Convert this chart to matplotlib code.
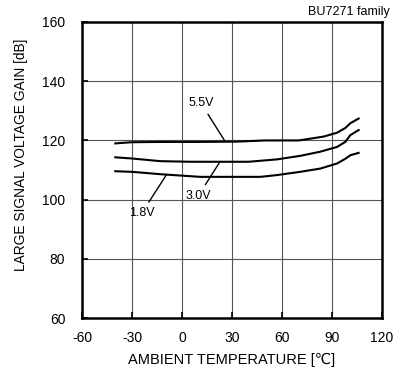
import matplotlib.pyplot as plt

plt.rcParams['font.family'] = ['Liberation Sans', 'DejaVu Sans']
plt.rcParams['axes.unicode_minus'] = False

# ambient temperature [C] and gain [dB]
temp_55 = [-40, -30, -10, 10, 33, 50, 70, 77, 85, 93, 98, 101, 106]
gain_55 = [119.0, 119.4, 119.5, 119.5, 119.6, 120.0, 120.0, 120.6, 121.3, 122.6, 124.2, 125.8, 127.4]

temp_30 = [-40, -30, -13, 5, 20, 40, 57, 71, 83, 93, 98, 101, 106]
gain_30 = [114.3, 113.9, 113.0, 112.8, 112.8, 112.8, 113.6, 114.8, 116.2, 117.8, 119.5, 121.8, 123.5]

temp_18 = [-40, -30, -13, 11, 30, 47, 57, 71, 83, 93, 98, 101, 106]
gain_18 = [109.6, 109.4, 108.6, 107.7, 107.7, 107.7, 108.3, 109.4, 110.5, 112.2, 113.8, 115.0, 115.8]

series_labels = ['5.5V', '3.0V', '1.8V']
x_ticks = [-60, -30, 0, 30, 60, 90, 120]
y_ticks = [60, 80, 100, 120, 140, 160]

fig = plt.figure(figsize=(3.94, 3.76), dpi=100)
ax = fig.add_axes([0.208, 0.154, 0.7615, 0.7875])

for t, g in [(temp_55, gain_55), (temp_30, gain_30), (temp_18, gain_18)]:
    ax.plot(t, g, color='black', lw=1.5)

# labels with leader lines
ax.annotate(series_labels[0], xy=(25.4, 120.1), xytext=(11.4, 132.6),
            fontsize=9, ha='center', va='center',
            arrowprops=dict(arrowstyle='-', color='black', lw=1.0, shrinkA=2, shrinkB=0))
ax.annotate(series_labels[1], xy=(22.8, 112.8), xytext=(9.8, 101.3),
            fontsize=9, ha='center', va='center',
            arrowprops=dict(arrowstyle='-', color='black', lw=1.0, shrinkA=2, shrinkB=0))
ax.annotate(series_labels[2], xy=(-9.2, 108.5), xytext=(-24.2, 95.4),
            fontsize=9, ha='center', va='center',
            arrowprops=dict(arrowstyle='-', color='black', lw=1.0, shrinkA=2, shrinkB=0))

ax.set_xlim(-60, 120)
ax.set_ylim(60, 160)
ax.set_xticks(x_ticks)
ax.set_yticks(y_ticks)
ax.grid(True, color='#555555', lw=0.8)
ax.tick_params(direction='in', length=4, width=1.2, labelsize=10)
ax.tick_params(axis='x', pad=9)
ax.tick_params(axis='y', pad=12)
for s in ax.spines.values():
    s.set_linewidth(1.8)

ax.set_xlabel('AMBIENT TEMPERATURE [\u2103]', fontsize=10.5, labelpad=6)
ax.set_ylabel('LARGE SIGNAL VOLTAGE GAIN [dB]', fontsize=9.9)
ax.yaxis.set_label_coords(-0.18, 0.55)
fig.text(0.99, 0.985, 'BU7271 family', ha='right', va='top', fontsize=9)

fig.savefig('out.png', dpi=100)
